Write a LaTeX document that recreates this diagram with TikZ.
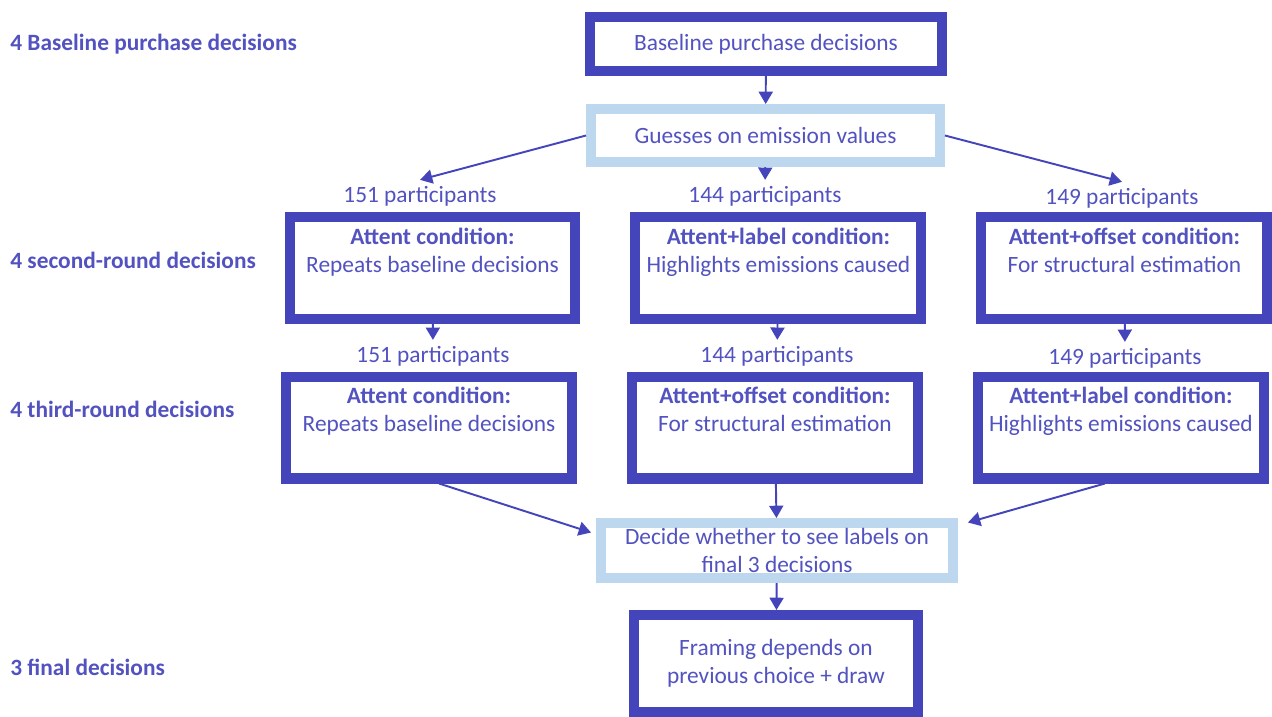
\documentclass[tikz,border=0pt]{standalone}
\usepackage{fontspec}
\setmainfont{Carlito}
\usepackage{xcolor}
\usetikzlibrary{arrows.meta,positioning,calc}

\definecolor{dkblue}{RGB}{68,68,187}
\definecolor{txblue}{RGB}{82,82,192}
\definecolor{ltblue}{RGB}{189,215,238}

\tikzset{
    box/.style={draw=dkblue, line width=5.7pt, fill=white, text=txblue, align=center, inner sep=0pt},
    softbox/.style={box, draw=ltblue},
    cond/.style={box, minimum width=5.72cm, minimum height=2.04cm},
    count/.style={text=txblue},
    side/.style={text=txblue, font=\fontsize{13.3}{15.8}\selectfont\bfseries, anchor=west, inner sep=0pt},
    link/.style={draw=dkblue, line width=1.1pt, -{Triangle[length=7pt,width=8pt]}}
}

\begin{document}
\begin{tikzpicture}[x=0.02cm, y=-0.02cm, font=\fontsize{13.3}{15.8}\selectfont]
    \useasboundingbox (0,0) rectangle (1272,717);

    % row labels on the left
    \node[side] (l1) at (10,44) {4 Baseline purchase decisions};
    \node[side] (l2) at (10,260) {4 second-round decisions};
    \node[side] (l3) at (10,409) {4 third-round decisions};
    \node[side] (l4) at (10,667) {3 final decisions};

    \node[box, minimum width=7.04cm, minimum height=1.08cm] (base) at (766,44) {Baseline purchase decisions};
    \node[softbox, minimum width=6.98cm, minimum height=1.06cm] (guess) at (765.5,135.5) {Guesses on emission values};

    \node[count] (n1) at (420,196) {151 participants};
    \node[count] (n2) at (765,196) {144 participants};
    \node[count] (n3) at (1122,198) {149 participants};

    % second round
    \node[cond] (s1) at (432.5,268) {\textbf{Attent condition:}\\Repeats baseline decisions\\\strut};
    \node[cond, right=1cm of s1] (s2) {\textbf{Attent+label condition:}\\Highlights emissions caused\\\strut};
    \node[cond, right=1cm of s2] (s3) {\textbf{Attent+offset condition:}\\For structural estimation\\\strut};

    \node[count] (m1) at (433,356) {151 participants};
    \node[count] (m2) at (777,356) {144 participants};
    \node[count] (m3) at (1125,358) {149 participants};

    % third round
    \node[cond] (t1) at (429,427.5) {\textbf{Attent condition:}\\Repeats baseline decisions\\\strut};
    \node[cond, right=1cm of t1] (t2) {\textbf{Attent+offset condition:}\\For structural estimation\\\strut};
    \node[cond, right=1cm of t2] (t3) {\textbf{Attent+label condition:}\\Highlights emissions caused\\\strut};

    \node[softbox, minimum width=7.04cm, minimum height=1.1cm] (decide) at (777,550.5) {Decide whether to see labels on\\final 3 decisions};
    \node[box, minimum width=5.68cm, minimum height=1.94cm] (final) at (776,663.5) {Framing depends on\\previous choice + draw};

    \draw[link] (base) -- (guess);
    \draw[link] (guess.west) -- (n1.north);
    \draw[link] (guess) -- (n2);
    \draw[link] (guess.east) -- (n3.north);

    \draw[link] (s1) -- (m1);
    \draw[link] (s2) -- (m2);
    \draw[link] (s3) -- (m3);

    \draw[link] ([xshift=0.2cm]t1.south) -- ([shift={(-0.1cm,0.36cm)}]decide.west);
    \draw[link] (t2) -- (decide);
    \draw[link] ([xshift=-0.32cm]t3.south) -- ([shift={(0.2cm,0.56cm)}]decide.east);
    \draw[link] (decide) -- (final);
\end{tikzpicture}
\end{document}
